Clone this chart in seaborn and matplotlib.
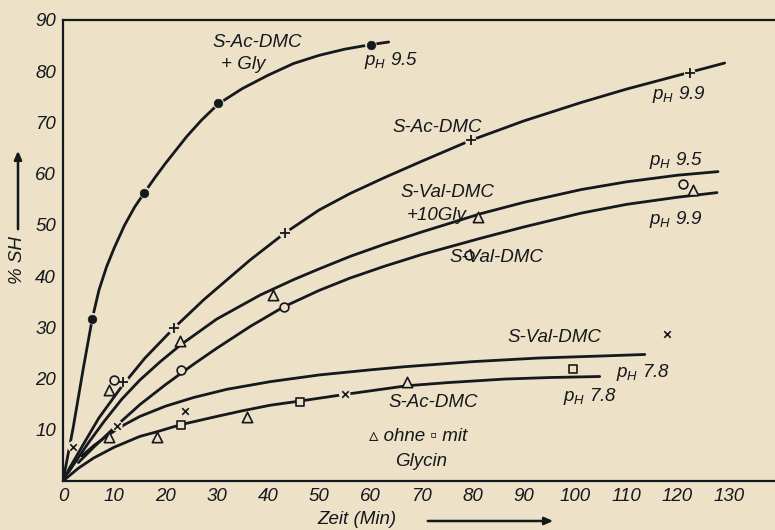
import matplotlib
matplotlib.use("Agg")
import matplotlib.pyplot as plt
import pandas as pd
import seaborn as sns

# ---------------- data ----------------
# S-Ac-DMC + Gly, pH 9.5 (filled dots)
ac_gly_t = [0, 2, 4, 5.7, 7, 8.5, 10, 12, 14, 15.9, 18, 20, 24.2, 27, 30.3, 35, 40, 45, 50, 55, 60.1, 63.6]
ac_gly_sh = [0, 10.5, 22.2, 31.6, 37.2, 41.8, 45.5, 49.9, 53.5, 56.3, 59.3, 62.0, 67.3, 70.4, 73.6, 76.6, 79.2, 81.5, 83.1, 84.3, 85.2, 85.7]
# S-Ac-DMC, pH 9.9 (plus)
ac99_t = [0.5, 1.2, 4, 7, 11.5, 16, 21.6, 27.5, 36.6, 43.3, 50, 56, 62.7, 70, 79.6, 90, 101.2, 110, 122.4, 129.2]
ac99_sh = [0.9, 2.4, 7.2, 12.3, 18.5, 24, 29.8, 35.4, 43.2, 48.4, 52.9, 56.1, 59.2, 62.4, 66.5, 70.3, 73.9, 76.5, 79.8, 81.6]
# S-Val-DMC + 10 Gly, pH 9.5 (triangles)
valgly_t = [1.0, 2.2, 5, 8, 11.5, 15, 19, 23, 30, 38.5, 45, 50, 56.2, 62.7, 70, 81.6, 90, 101.2, 110, 120, 127.9]
valgly_sh = [1.6, 3.4, 7.5, 11.6, 16, 19.7, 23.3, 26.6, 31.6, 36.3, 39.3, 41.4, 43.9, 46.2, 48.6, 52.2, 54.4, 56.9, 58.4, 59.7, 60.4]
# S-Val-DMC, pH 9.9 (circles)
val99_t = [3, 6, 10, 15, 20, 25.5, 30, 36.6, 43.1, 50, 56, 62.7, 70, 81.6, 90, 101.2, 110, 120, 127.7]
val99_sh = [3.6, 6.6, 10.4, 14.9, 18.8, 22.8, 25.9, 30.2, 34.0, 37.2, 39.6, 41.9, 44.2, 47.4, 49.6, 52.3, 54.0, 55.4, 56.3]
# S-Val-DMC, pH 7.8
val78_t = [3.7, 6, 9, 12, 15, 20, 25.5, 32, 40.5, 50, 60, 66.6, 80, 92.7, 105, 113.6]
val78_sh = [4.9, 6.9, 9.1, 11, 12.6, 14.6, 16.3, 17.9, 19.4, 20.7, 21.7, 22.3, 23.3, 24, 24.4, 24.7]
# S-Ac-DMC, pH 7.8
ac78_t = [0, 3, 6, 10, 15, 18.3, 23, 30, 35, 40.5, 46.2, 55, 67.2, 75, 86.2, 95, 104.8]
ac78_sh = [0, 2.5, 4.5, 6.6, 8.7, 9.6, 11.0, 12.6, 13.7, 14.8, 15.6, 16.9, 18.6, 19.2, 19.9, 20.2, 20.4]

# measured points
dot_t = [5.7, 15.9, 30.3, 60.1]
dot_sh = [31.7, 56.3, 73.8, 85.2]
plus_t = [11.8, 21.6, 43.3, 79.6, 122.4]
plus_sh = [19.4, 29.8, 48.4, 66.5, 79.6]
tri_t = [8.9, 22.9, 41.0, 81.1, 123.1, 8.9, 18.3, 35.9, 67.2]
tri_sh = [17.8, 27.4, 36.3, 51.5, 56.8, 8.6, 8.5, 12.4, 19.4]
circ_t = [9.9, 23.0, 43.1, 79.2, 121.0]
circ_sh = [19.7, 21.7, 33.9, 44.2, 58.0]
sq_t = [23.0, 46.2, 99.5]
sq_sh = [11.0, 15.5, 21.8]
cross_t = [2.0, 10.5, 23.9, 55.0, 118.0]
cross_sh = [6.7, 10.8, 13.7, 17.0, 28.7]

x_ticks = list(range(0, 140, 10))
y_ticks = list(range(0, 100, 10))
y_tick_labels = [""] + [str(v) for v in range(10, 100, 10)]

# ---------------- styling ----------------
bg = "#ede1c8"
ink = "#15181c"

sns.set_theme(style="white")
plt.rcParams["font.family"] = ["Liberation Sans", "DejaVu Sans"]
plt.rcParams["font.style"] = "italic"
plt.rcParams["mathtext.fontset"] = "custom"
plt.rcParams["mathtext.it"] = "Liberation Sans:italic"
plt.rcParams["mathtext.rm"] = "Liberation Sans:italic"
plt.rcParams["lines.solid_joinstyle"] = "round"
plt.rcParams["lines.solid_capstyle"] = "round"

W, H = 775, 530
fig = plt.figure(figsize=(W / 100, H / 100), dpi=100, facecolor=bg)
ax = fig.add_axes([63 / W, 1 - 481 / H, 1 - 63 / W + 0.002, (481 - 20) / H])
ax.set_facecolor(bg)

frames = []
for name, t, s in [("acgly", ac_gly_t, ac_gly_sh), ("ac99", ac99_t, ac99_sh),
                   ("valgly", valgly_t, valgly_sh), ("val99", val99_t, val99_sh),
                   ("val78", val78_t, val78_sh), ("ac78", ac78_t, ac78_sh)]:
    frames.append(pd.DataFrame({"t": t, "sh": s, "curve": name}))
lines = pd.concat(frames, ignore_index=True)

sns.lineplot(data=lines, x="t", y="sh", units="curve", estimator=None, sort=False,
             color=ink, linewidth=2.0, ax=ax, legend=False, zorder=2)

# background discs giving the small gaps in the lines around marks
gap = pd.DataFrame({"t": plus_t + cross_t + dot_t, "sh": plus_sh + cross_sh + dot_sh})
sns.scatterplot(data=gap, x="t", y="sh", marker="o", s=70, color=bg, edgecolor="none",
                linewidth=0, ax=ax, zorder=3, legend=False)

sns.scatterplot(x=dot_t, y=dot_sh, marker="o", s=38, color=ink, edgecolor=ink, ax=ax, zorder=4)
sns.scatterplot(x=plus_t, y=plus_sh, marker="+", s=45, color=ink, linewidth=1.3, ax=ax, zorder=4)
sns.scatterplot(x=cross_t, y=cross_sh, marker="x", s=22, color=ink, linewidth=1.2, ax=ax, zorder=4)
sns.scatterplot(x=tri_t, y=tri_sh, marker="^", s=55, color=bg, edgecolor=ink, linewidth=1.2, ax=ax, zorder=4)
sns.scatterplot(x=circ_t, y=circ_sh, marker="o", s=40, color=bg, edgecolor=ink, linewidth=1.2, ax=ax, zorder=4)
sns.scatterplot(x=sq_t, y=sq_sh, marker="s", s=36, color=bg, edgecolor=ink, linewidth=1.2, ax=ax, zorder=4)

ax.set_xlim(0, (W - 63) / 5.11)
ax.set_ylim(0, 90)
ax.set_xticks(x_ticks)
ax.set_yticks(y_ticks)
ax.set_xticklabels([str(v) for v in x_ticks])
ax.set_yticklabels(y_tick_labels)
ax.tick_params(axis="both", direction="in", length=4, width=1.2, color=ink,
               labelsize=13.5, labelcolor=ink, pad=5)
ax.tick_params(axis="x", pad=5)
ax.set_xlabel("")
ax.set_ylabel("")
for side in ["left", "bottom", "top"]:
    ax.spines[side].set_visible(True)
    ax.spines[side].set_color(ink)
    ax.spines[side].set_linewidth(1.6)
ax.spines["right"].set_visible(False)

fs = 13.5
labels = [
    ("S-Ac-DMC", 38.0, 85.7, "center"),
    ("+ Gly", 35.2, 81.4, "center"),
    (r"$p_H$ 9.5", 58.8, 82.0, "left"),
    ("S-Ac-DMC", 73.0, 69.0, "center"),
    (r"$p_H$ 9.9", 115.0, 75.4, "left"),
    (r"$p_H$ 9.5", 114.5, 62.6, "left"),
    ("S-Val-DMC", 75.0, 56.4, "center"),
    ("+10Gly", 73.0, 51.8, "center"),
    (r"$p_H$ 9.9", 114.5, 51.1, "left"),
    ("S-Val-DMC", 84.7, 43.6, "center"),
    ("S-Val-DMC", 95.9, 28.0, "center"),
    (r"$p_H$ 7.8", 108.0, 21.2, "left"),
    ("S-Ac-DMC", 72.3, 15.4, "center"),
    (r"$p_H$ 7.8", 97.6, 16.5, "left"),
    ("\u25b5 ohne \u25ab mit", 69.3, 8.6, "center"),
    ("Glycin", 70.0, 3.9, "center"),
]
for txt, x, y, ha in labels:
    ax.text(x, y, txt, fontsize=fs, ha=ha, va="center", color=ink, style="italic", zorder=5)

# axis titles with arrows
fig.text(18 / W, 1 - 260 / H, "% SH", rotation=90, fontsize=fs, ha="center", va="center",
         color=ink, style="italic")
fig.add_artist(matplotlib.patches.FancyArrowPatch((18 / W, 1 - 232 / H), (18 / W, 1 - 148 / H),
               transform=fig.transFigure, arrowstyle="-|>,head_length=5,head_width=2.2",
               color=ink, linewidth=1.8))
fig.text(357 / W, 1 - 519 / H, "Zeit (Min)", fontsize=fs, ha="center", va="center",
         color=ink, style="italic")
fig.add_artist(matplotlib.patches.FancyArrowPatch((425 / W, 1 - 521 / H), (556 / W, 1 - 521 / H),
               transform=fig.transFigure, arrowstyle="-|>,head_length=5,head_width=2.2",
               color=ink, linewidth=1.8))

fig.savefig("out.png", dpi=100, facecolor=bg)
